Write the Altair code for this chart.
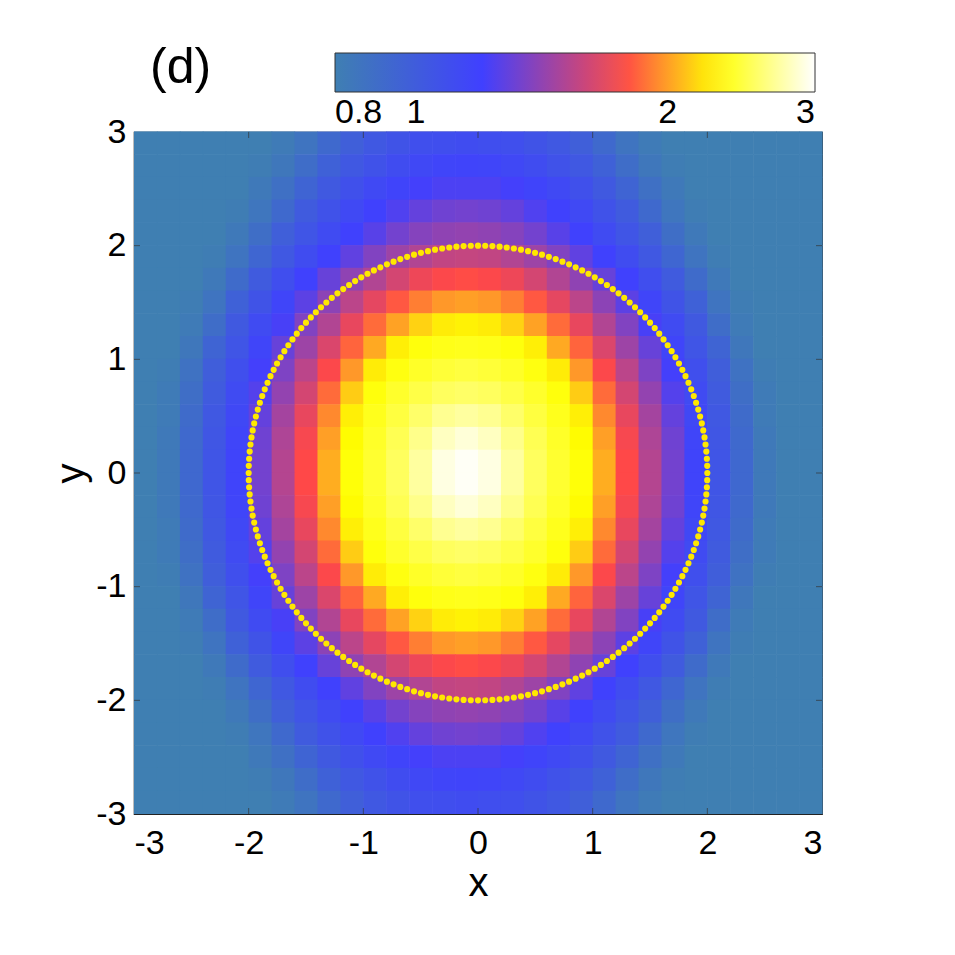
import altair as alt
import numpy as np
import pandas as pd

# ---- data ----
x_centers = [-2.9, -2.7, -2.5, -2.3, -2.1, -1.9, -1.7, -1.5, -1.3, -1.1, -0.9, -0.7, -0.5, -0.3, -0.1,
             0.1, 0.3, 0.5, 0.7, 0.9, 1.1, 1.3, 1.5, 1.7, 1.9, 2.1, 2.3, 2.5, 2.7, 2.9]
y_centers = [2.9, 2.7, 2.5, 2.3, 2.1, 1.9, 1.7, 1.5, 1.3, 1.1, 0.9, 0.7, 0.5, 0.3, 0.1,
             -0.1, -0.3, -0.5, -0.7, -0.9, -1.1, -1.3, -1.5, -1.7, -1.9, -2.1, -2.3, -2.5, -2.7, -2.9]

Z = [
    [0.80, 0.80, 0.80, 0.80, 0.80, 0.80, 0.82, 0.86, 0.92, 0.98, 1.03, 1.06, 1.09, 1.10, 1.11, 1.10, 1.09, 1.06, 1.03, 0.98, 0.92, 0.86, 0.82, 0.80, 0.80, 0.80, 0.80, 0.80, 0.80, 0.80],
    [0.80, 0.80, 0.80, 0.80, 0.80, 0.81, 0.84, 0.90, 0.97, 1.03, 1.07, 1.11, 1.14, 1.16, 1.17, 1.16, 1.14, 1.11, 1.07, 1.03, 0.97, 0.90, 0.84, 0.81, 0.80, 0.80, 0.80, 0.80, 0.80, 0.80],
    [0.80, 0.80, 0.80, 0.80, 0.80, 0.83, 0.88, 0.95, 1.02, 1.08, 1.13, 1.17, 1.21, 1.23, 1.23, 1.23, 1.21, 1.17, 1.13, 1.08, 1.02, 0.95, 0.88, 0.83, 0.80, 0.80, 0.80, 0.80, 0.80, 0.80],
    [0.80, 0.80, 0.80, 0.80, 0.81, 0.85, 0.92, 1.01, 1.07, 1.13, 1.19, 1.24, 1.29, 1.32, 1.33, 1.32, 1.29, 1.24, 1.19, 1.13, 1.07, 1.01, 0.92, 0.85, 0.81, 0.80, 0.80, 0.80, 0.80, 0.80],
    [0.80, 0.80, 0.80, 0.80, 0.83, 0.89, 0.98, 1.05, 1.12, 1.19, 1.26, 1.33, 1.38, 1.41, 1.42, 1.41, 1.38, 1.33, 1.26, 1.19, 1.12, 1.05, 0.98, 0.89, 0.83, 0.80, 0.80, 0.80, 0.80, 0.80],
    [0.80, 0.80, 0.80, 0.81, 0.86, 0.94, 1.03, 1.11, 1.19, 1.28, 1.37, 1.45, 1.51, 1.56, 1.57, 1.56, 1.51, 1.45, 1.37, 1.28, 1.19, 1.11, 1.03, 0.94, 0.86, 0.81, 0.80, 0.80, 0.80, 0.80],
    [0.80, 0.80, 0.80, 0.83, 0.91, 1.01, 1.10, 1.19, 1.30, 1.41, 1.51, 1.62, 1.71, 1.76, 1.78, 1.76, 1.71, 1.62, 1.51, 1.41, 1.30, 1.19, 1.10, 1.01, 0.91, 0.83, 0.80, 0.80, 0.80, 0.80],
    [0.80, 0.80, 0.81, 0.86, 0.97, 1.06, 1.16, 1.27, 1.40, 1.54, 1.68, 1.81, 1.91, 1.98, 2.00, 1.98, 1.91, 1.81, 1.68, 1.54, 1.40, 1.27, 1.16, 1.06, 0.97, 0.86, 0.81, 0.80, 0.80, 0.80],
    [0.80, 0.80, 0.82, 0.90, 1.02, 1.12, 1.22, 1.37, 1.51, 1.69, 1.86, 2.01, 2.15, 2.23, 2.25, 2.23, 2.15, 2.01, 1.86, 1.69, 1.51, 1.37, 1.22, 1.12, 1.02, 0.90, 0.82, 0.80, 0.80, 0.80],
    [0.80, 0.80, 0.84, 0.95, 1.05, 1.16, 1.30, 1.45, 1.64, 1.84, 2.03, 2.24, 2.32, 2.35, 2.36, 2.35, 2.32, 2.24, 2.03, 1.84, 1.64, 1.45, 1.30, 1.16, 1.05, 0.95, 0.84, 0.80, 0.80, 0.80],
    [0.80, 0.81, 0.87, 0.99, 1.09, 1.21, 1.36, 1.54, 1.76, 1.98, 2.23, 2.33, 2.39, 2.43, 2.45, 2.43, 2.39, 2.33, 2.23, 1.98, 1.76, 1.54, 1.36, 1.21, 1.09, 0.99, 0.87, 0.81, 0.80, 0.80],
    [0.80, 0.82, 0.89, 1.01, 1.12, 1.25, 1.42, 1.62, 1.86, 2.13, 2.32, 2.40, 2.47, 2.53, 2.55, 2.53, 2.47, 2.40, 2.32, 2.13, 1.86, 1.62, 1.42, 1.25, 1.12, 1.01, 0.89, 0.82, 0.80, 0.80],
    [0.80, 0.82, 0.91, 1.03, 1.14, 1.29, 1.47, 1.69, 1.94, 2.24, 2.36, 2.45, 2.56, 2.67, 2.71, 2.67, 2.56, 2.45, 2.36, 2.24, 1.94, 1.69, 1.47, 1.29, 1.14, 1.03, 0.91, 0.82, 0.80, 0.80],
    [0.80, 0.83, 0.92, 1.04, 1.16, 1.32, 1.50, 1.74, 2.00, 2.28, 2.39, 2.50, 2.65, 2.81, 2.88, 2.81, 2.65, 2.50, 2.39, 2.28, 2.00, 1.74, 1.50, 1.32, 1.16, 1.04, 0.92, 0.83, 0.80, 0.80],
    [0.80, 0.83, 0.93, 1.05, 1.17, 1.33, 1.52, 1.77, 2.04, 2.31, 2.41, 2.53, 2.71, 2.91, 2.97, 2.91, 2.71, 2.53, 2.41, 2.31, 2.04, 1.77, 1.52, 1.33, 1.17, 1.05, 0.93, 0.83, 0.80, 0.80],
    [0.80, 0.83, 0.93, 1.05, 1.17, 1.33, 1.52, 1.77, 2.04, 2.31, 2.41, 2.53, 2.71, 2.91, 2.97, 2.91, 2.71, 2.53, 2.41, 2.31, 2.04, 1.77, 1.52, 1.33, 1.17, 1.05, 0.93, 0.83, 0.80, 0.80],
    [0.80, 0.83, 0.92, 1.04, 1.16, 1.32, 1.50, 1.74, 2.00, 2.28, 2.39, 2.50, 2.65, 2.81, 2.88, 2.81, 2.65, 2.50, 2.39, 2.28, 2.00, 1.74, 1.50, 1.32, 1.16, 1.04, 0.92, 0.83, 0.80, 0.80],
    [0.80, 0.82, 0.91, 1.03, 1.14, 1.29, 1.47, 1.69, 1.94, 2.24, 2.36, 2.45, 2.56, 2.67, 2.71, 2.67, 2.56, 2.45, 2.36, 2.24, 1.94, 1.69, 1.47, 1.29, 1.14, 1.03, 0.91, 0.82, 0.80, 0.80],
    [0.80, 0.82, 0.89, 1.01, 1.12, 1.25, 1.42, 1.62, 1.86, 2.13, 2.32, 2.40, 2.47, 2.53, 2.55, 2.53, 2.47, 2.40, 2.32, 2.13, 1.86, 1.62, 1.42, 1.25, 1.12, 1.01, 0.89, 0.82, 0.80, 0.80],
    [0.80, 0.81, 0.87, 0.99, 1.09, 1.21, 1.36, 1.54, 1.76, 1.98, 2.23, 2.33, 2.39, 2.43, 2.45, 2.43, 2.39, 2.33, 2.23, 1.98, 1.76, 1.54, 1.36, 1.21, 1.09, 0.99, 0.87, 0.81, 0.80, 0.80],
    [0.80, 0.80, 0.84, 0.95, 1.05, 1.16, 1.30, 1.45, 1.64, 1.84, 2.03, 2.24, 2.32, 2.35, 2.36, 2.35, 2.32, 2.24, 2.03, 1.84, 1.64, 1.45, 1.30, 1.16, 1.05, 0.95, 0.84, 0.80, 0.80, 0.80],
    [0.80, 0.80, 0.82, 0.90, 1.02, 1.12, 1.22, 1.37, 1.51, 1.69, 1.86, 2.01, 2.15, 2.23, 2.25, 2.23, 2.15, 2.01, 1.86, 1.69, 1.51, 1.37, 1.22, 1.12, 1.02, 0.90, 0.82, 0.80, 0.80, 0.80],
    [0.80, 0.80, 0.81, 0.86, 0.97, 1.06, 1.16, 1.27, 1.40, 1.54, 1.68, 1.81, 1.91, 1.98, 2.00, 1.98, 1.91, 1.81, 1.68, 1.54, 1.40, 1.27, 1.16, 1.06, 0.97, 0.86, 0.81, 0.80, 0.80, 0.80],
    [0.80, 0.80, 0.80, 0.83, 0.91, 1.01, 1.10, 1.19, 1.30, 1.41, 1.51, 1.62, 1.71, 1.76, 1.78, 1.76, 1.71, 1.62, 1.51, 1.41, 1.30, 1.19, 1.10, 1.01, 0.91, 0.83, 0.80, 0.80, 0.80, 0.80],
    [0.80, 0.80, 0.80, 0.81, 0.86, 0.94, 1.03, 1.11, 1.19, 1.28, 1.37, 1.45, 1.51, 1.56, 1.57, 1.56, 1.51, 1.45, 1.37, 1.28, 1.19, 1.11, 1.03, 0.94, 0.86, 0.81, 0.80, 0.80, 0.80, 0.80],
    [0.80, 0.80, 0.80, 0.80, 0.83, 0.89, 0.98, 1.05, 1.12, 1.19, 1.26, 1.33, 1.38, 1.41, 1.42, 1.41, 1.38, 1.33, 1.26, 1.19, 1.12, 1.05, 0.98, 0.89, 0.83, 0.80, 0.80, 0.80, 0.80, 0.80],
    [0.80, 0.80, 0.80, 0.80, 0.81, 0.85, 0.92, 1.01, 1.07, 1.13, 1.19, 1.24, 1.29, 1.32, 1.33, 1.32, 1.29, 1.24, 1.19, 1.13, 1.07, 1.01, 0.92, 0.85, 0.81, 0.80, 0.80, 0.80, 0.80, 0.80],
    [0.80, 0.80, 0.80, 0.80, 0.80, 0.83, 0.88, 0.95, 1.02, 1.08, 1.13, 1.17, 1.21, 1.23, 1.23, 1.23, 1.21, 1.17, 1.13, 1.08, 1.02, 0.95, 0.88, 0.83, 0.80, 0.80, 0.80, 0.80, 0.80, 0.80],
    [0.80, 0.80, 0.80, 0.80, 0.80, 0.81, 0.84, 0.90, 0.97, 1.03, 1.07, 1.11, 1.14, 1.16, 1.17, 1.16, 1.14, 1.11, 1.07, 1.03, 0.97, 0.90, 0.84, 0.81, 0.80, 0.80, 0.80, 0.80, 0.80, 0.80],
    [0.80, 0.80, 0.80, 0.80, 0.80, 0.80, 0.82, 0.86, 0.92, 0.98, 1.03, 1.06, 1.09, 1.10, 1.11, 1.10, 1.09, 1.06, 1.03, 0.98, 0.92, 0.86, 0.82, 0.80, 0.80, 0.80, 0.80, 0.80, 0.80, 0.80],
]

axis_ticks = [-3, -2, -1, 0, 1, 2, 3]
inner_ticks = [-2, -1, 0, 1, 2]
cbar_ticks = [0.8, 1, 2, 3]
cbar_stops = [0.8, 1.2, 1.77, 2.29, 3.0]
cbar_colors = ["#3f7fb2", "#4040ff", "#ff4848", "#ffff00", "#ffffff"]

circle_radius = 2.0
n_dots = 200

# ---- build tables ----
half = (x_centers[1] - x_centers[0]) / 2.0
cells = []
for j, yc in enumerate(y_centers):
    for i, xc in enumerate(x_centers):
        cells.append({"x0": xc - half, "x1": xc + half,
                      "y0": yc - half, "y1": yc + half, "v": Z[j][i]})
cells = pd.DataFrame(cells)

theta = np.linspace(0, 2 * np.pi, n_dots, endpoint=False)
dots = pd.DataFrame({"x": circle_radius * np.cos(theta), "y": circle_radius * np.sin(theta)})

ticks_df = pd.DataFrame({"t": inner_ticks})

FONT = "Liberation Sans, Arial, Helvetica"
W, H = 688, 682

xs = alt.Scale(domain=[-3, 3], nice=False, zero=False)
ys = alt.Scale(domain=[-3, 3], nice=False, zero=False)
cscale = alt.Scale(type="log", domain=cbar_stops, range=cbar_colors, interpolate="rgb")

heat = alt.Chart(cells).mark_rect(x2Offset=0.6, y2Offset=-0.6).encode(
    x=alt.X("x0:Q", scale=xs,
            axis=alt.Axis(values=axis_ticks, title="x", labelExpr="'' + datum.value",
                          labelPadding=12, titlePadding=3)),
    x2="x1:Q",
    y=alt.Y("y0:Q", scale=ys,
            axis=alt.Axis(values=axis_ticks, title="y", labelExpr="'' + datum.value",
                          labelPadding=8, titlePadding=4)),
    y2="y1:Q",
    color=alt.Color("v:Q", scale=cscale,
                    legend=alt.Legend(type="gradient", orient="none", legendX=201, legendY=-79,
                                      direction="horizontal", gradientLength=480,
                                      gradientThickness=39, title=None, values=cbar_ticks,
                                      format="~g", labelFontSize=34, labelFont=FONT,
                                      labelColor="black", labelOffset=4, padding=0,
                                      gradientStrokeColor="#333", gradientStrokeWidth=1,
                                      labelOverlap=False)),
)

tick_style = dict(color="#333", thickness=1, size=12, clip=True)
tb = alt.Chart(ticks_df).mark_tick(orient="vertical", **tick_style).encode(
    x=alt.X("t:Q", scale=xs), y=alt.datum(-3))
tt = alt.Chart(ticks_df).mark_tick(orient="vertical", **tick_style).encode(
    x=alt.X("t:Q", scale=xs), y=alt.datum(3))
tl = alt.Chart(ticks_df).mark_tick(orient="horizontal", **tick_style).encode(
    y=alt.Y("t:Q", scale=ys), x=alt.datum(-3))
tr = alt.Chart(ticks_df).mark_tick(orient="horizontal", **tick_style).encode(
    y=alt.Y("t:Q", scale=ys), x=alt.datum(3))

pts = alt.Chart(dots).mark_circle(size=38, opacity=1, color="#ffe800").encode(
    x=alt.X("x:Q", scale=xs), y=alt.Y("y:Q", scale=ys))

chart = alt.layer(heat, tb, tt, tl, tr, pts).properties(
    width=W, height=H,
    title=alt.TitleParams("(d)", anchor="start", frame="group", fontSize=50, font=FONT,
                          fontWeight="normal", dx=16, offset=0, dy=40, color="black"),
    autosize=alt.AutoSizeParams(type="none"),
    padding={"left": 126, "top": 124, "right": 110, "bottom": 110},
).configure_view(stroke="#222", strokeWidth=1.2).configure_axis(
    labelFont=FONT, labelFontSize=34, labelColor="black", titleFont=FONT,
    titleFontSize=40, titleFontWeight="normal", titleColor="black",
    domain=False, ticks=False, grid=False,
)

chart.save("out.html", embed_options={"renderer": "svg", "actions": False})
